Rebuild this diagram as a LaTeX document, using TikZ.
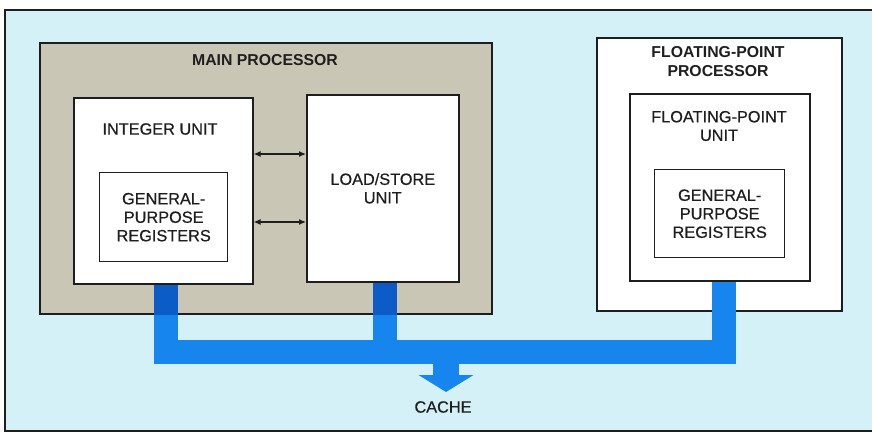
\documentclass[tikz,border=0pt]{standalone}
\usepackage{fontspec}
\setmainfont{Liberation Sans}
\newfontfamily\medfont[FakeBold=0.5]{Liberation Sans}
\usepackage{tikz}
\usetikzlibrary{arrows.meta,calc}
\definecolor{bgcyan}{RGB}{212,241,247}
\definecolor{procgray}{RGB}{202,198,182}
\definecolor{busblue}{RGB}{22,134,238}
\definecolor{busdark}{RGB}{12,92,200}
\definecolor{inkgray}{RGB}{30,30,30}
\tikzset{
  ubox/.style={draw=inkgray, fill=white, line width=1.6pt, anchor=north west, inner sep=0pt},
  rbox/.style={ubox, line width=1.4pt},
  lbl/.style={font=\medfont\fontsize{16.3}{18.5}\selectfont, text=inkgray, align=center},
  ttl/.style={font=\fontsize{15.8}{19}\selectfont\bfseries, text=inkgray, align=center},
  lnk/.style={{Latex[length=7pt,width=6pt]}-{Latex[length=7pt,width=6pt]}, line width=1.1pt, inkgray},
  bus/.style={line width=24pt, draw=busblue, line join=miter},
  frm/.style={line width=1.2pt, inkgray},
}

\begin{document}
\begin{tikzpicture}[x=1pt, y=-1pt]
  \useasboundingbox (0,0) rectangle (872,435);
  \fill[bgcyan] (5,10) rectangle (872,431);
  \draw[frm] (872,10) -- (5,10) -- (5,431) -- (872,431);

  % main processor
  \node[ubox, fill=procgray, minimum width=452pt, minimum height=271pt] (mainp) at (39,42) {};
  \node[ttl] (mainlbl) at (265,60) {MAIN PROCESSOR};
  \node[ubox, minimum width=179pt, minimum height=186pt] (intu) at (73,97) {};
  \node[lbl] (intlbl) at (160,129) {INTEGER UNIT};
  \node[rbox, minimum width=128pt, minimum height=89pt, lbl] (intreg) at (99,172) {GENERAL-\\PURPOSE\\REGISTERS};
  \node[ubox, minimum width=152pt, minimum height=187pt, lbl] (lsu) at (306,94) {LOAD/STORE\\UNIT};

  \coordinate (lk1) at (0,154);
  \coordinate (lk2) at (0,222);
  \draw[lnk] (intu.east |- lk1) -- (lsu.west |- lk1);
  \draw[lnk] (intu.east |- lk2) -- (lsu.west |- lk2);

  % floating-point processor
  \node[ubox, minimum width=245pt, minimum height=273pt] (fpp) at (596,37) {};
  \node[ttl] (fplbl) at (718,62) {FLOATING-POINT\\PROCESSOR};
  \node[ubox, minimum width=180pt, minimum height=187pt] (fpu) at (629,93) {};
  \node[lbl] (fpulbl) at (719,126) {FLOATING-POINT\\UNIT};
  \node[rbox, minimum width=130pt, minimum height=88pt, lbl] (fpreg) at (654,169) {GENERAL-\\PURPOSE\\REGISTERS};

  % bus to cache
  \coordinate (busy) at (0,352);
  \coordinate (intdrop) at ([xshift=3pt]intu.south);
  \coordinate (lsdrop) at ([xshift=2.5pt]lsu.south);
  \coordinate (fpdrop) at ([xshift=4pt]fpu.south);
  \coordinate (cachetip) at (446,392);
  \draw[bus] (intdrop) |- (fpdrop |- busy) -- (fpdrop);
  \draw[bus] (lsdrop) -- (lsdrop |- busy);
  \begin{scope}
    \clip (mainp.south west) rectangle (mainp.north east);
    \draw[bus, draw=busdark] (intdrop) -- (intdrop |- busy);
    \draw[bus, draw=busdark] (lsdrop) -- (lsdrop |- busy);
  \end{scope}
  \draw[bus, line width=26pt] (cachetip |- busy) -- ([yshift=16pt]cachetip);
  \fill[busblue] (cachetip) -- ++(-27.5,-17) -- ++(55,0) -- cycle;
  \node[lbl] (cache) at (443,407) {CACHE};
\end{tikzpicture}
\end{document}
